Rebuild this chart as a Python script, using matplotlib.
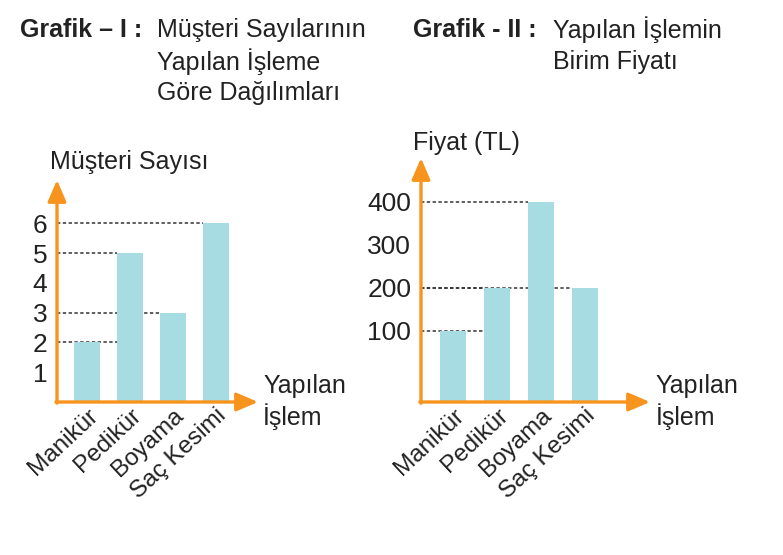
import numpy as np
import matplotlib.pyplot as plt

# veriler
islemler = ['Manikür', 'Pedikür', 'Boyama', 'Saç Kesimi']
musteri_sayisi = [2, 5, 3, 6]
birim_fiyat = [100, 200, 400, 200]
ticks1 = [1, 2, 3, 4, 5, 6]
ticks2 = [100, 200, 300, 400]
baslik1 = ['Müşteri Sayılarının', 'Yapılan İşleme', 'Göre Dağılımları']
baslik2 = ['Yapılan İşlemin', 'Birim Fiyatı']

ORANGE = '#F7941D'
BAR = '#A8DCE3'
TXT = '#222222'
plt.rcParams['font.family'] = ['Liberation Sans', 'DejaVu Sans']

W, H = 783, 555
fig = plt.figure(figsize=(W / 100, H / 100), dpi=100)


def px_axes(left, top, right, bottom):
    """piksel koordinatlarindan eksen olustur"""
    return fig.add_axes([left / W, 1 - bottom / H, (right - left) / W, (bottom - top) / H])


def draw_chart(ax, values, ticks, xlim, ylim, ylabel, ylabel_pos):
    x = np.arange(len(values))
    w = 0.6
    ax.set_xlim(*xlim)
    ax.set_ylim(*ylim)
    base = ylim[0]
    ax.bar(x, np.array(values) - base, bottom=base, width=w, color=BAR, zorder=3)

    # kesikli cizgiler
    for i, v in enumerate(values):
        end = x[max(i, 1)] - w / 2
        ax.plot([xlim[0], end], [v, v], color='#333333', lw=1.1,
                linestyle=(0, (2.2, 1.6)), zorder=2, clip_on=False)

    # eksen oklari
    arrow = dict(arrowstyle='-|>,head_length=0.65,head_width=0.28', mutation_scale=20,
                 color=ORANGE, lw=2.4, shrinkA=0, shrinkB=0)
    ax.annotate('', xy=(1, 0), xytext=(-0.005, 0), xycoords='axes fraction', arrowprops=arrow, zorder=5)
    ax.annotate('', xy=(0, 1), xytext=(0, -0.005), xycoords='axes fraction', arrowprops=arrow, zorder=5)

    ax.set_yticks(ticks)
    ax.set_yticklabels([str(t) for t in ticks], fontsize=19, color=TXT)
    ax.tick_params(axis='y', length=0, pad=7)
    ax.set_xticks([])
    for s in ax.spines.values():
        s.set_visible(False)
    ax.patch.set_visible(False)

    for i, lab in enumerate(islemler):
        ax.annotate(lab, xy=(x[i], base), xycoords='data', xytext=(0, -2),
                    textcoords='offset points', rotation=43, ha='right', va='top',
                    rotation_mode='anchor', fontsize=17.5, color=TXT)

    ax.text(1.025, 0.0, 'Yapılan\nİşlem', transform=ax.transAxes, fontsize=18,
            color=TXT, ha='left', va='center', linespacing=1.2)
    ax.text(ylabel_pos[0], ylabel_pos[1], ylabel, transform=ax.transAxes, fontsize=18,
            color=TXT, ha='left', va='center')


ax1 = px_axes(57, 180, 258, 402)
draw_chart(ax1, musteri_sayisi, ticks1, (-0.70, 3.98), (0, 7.45), 'Müşteri Sayısı', (-0.035, 1.08))

ax2 = px_axes(421, 158, 650, 402)
draw_chart(ax2, birim_fiyat, ticks2, (-0.73, 4.48), (-65, 502), 'Fiyat (TL)', (-0.035, 1.06))

# basliklar
fig.text(20 / W, 1 - 30 / H, 'Grafik – I :', fontsize=18, fontweight='bold',
         color=TXT, ha='left', va='center')
for k, satir in enumerate(baslik1):
    fig.text(157 / W, 1 - (30 + 31.5 * k) / H, satir, fontsize=18, color=TXT,
             ha='left', va='center')
fig.text(413 / W, 1 - 30 / H, 'Grafik - II :', fontsize=18, fontweight='bold',
         color=TXT, ha='left', va='center')
for k, satir in enumerate(baslik2):
    fig.text(553 / W, 1 - (30 + 31.5 * k) / H, satir, fontsize=18, color=TXT,
             ha='left', va='center')

fig.savefig('out.png', dpi=100)
